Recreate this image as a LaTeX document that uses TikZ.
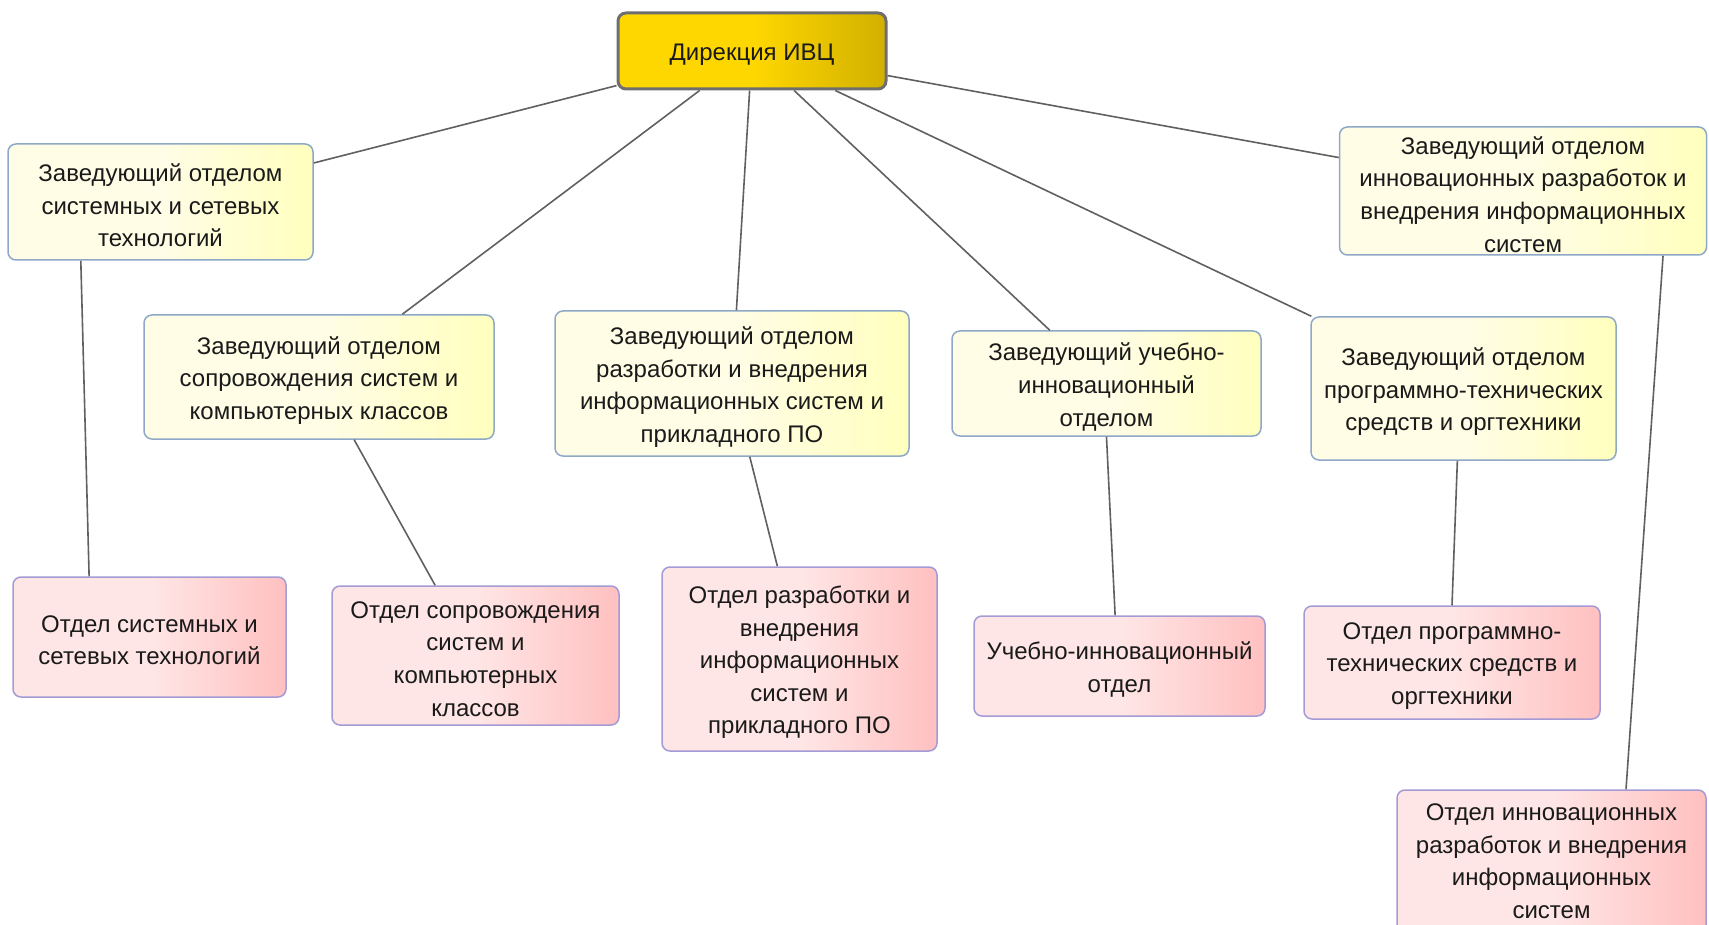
\documentclass[tikz,border=0pt]{standalone}
\usepackage{fontspec}
\setmainfont{Liberation Sans}
\usetikzlibrary{calc}
\definecolor{goldL}{HTML}{FFD700}
\definecolor{goldR}{HTML}{D2B000}
\definecolor{goldB}{HTML}{6E6E6E}
\definecolor{yelL}{HTML}{FFFDE6}
\definecolor{yelR}{HTML}{FFFFBE}
\definecolor{yelB}{HTML}{8EA8C8}
\definecolor{pinkL}{HTML}{FFE6E6}
\definecolor{pinkR}{HTML}{FFC0C0}
\definecolor{pinkB}{HTML}{A49AD6}
\definecolor{lineC}{HTML}{606060}
\definecolor{txtC}{HTML}{1A1A1A}
\tikzset{
  basebox/.style={rounded corners=4pt, inner sep=0pt},
  topbox/.style={basebox, draw=goldB, line width=1.5pt, left color=goldL, right color=goldR, middle color=goldL},
  headbox/.style={basebox, draw=yelB, line width=0.75pt, left color=yelL, right color=yelR, middle color=yelL},
  deptbox/.style={basebox, draw=pinkB, line width=0.75pt, left color=pinkL, right color=pinkR, middle color=pinkL},
  txt/.style={align=center, inner sep=0pt, text=txtC, font=\fontsize{12pt}{16.3pt}\selectfont},
  conn/.style={draw=lineC, line width=0.8pt}
}
\begin{document}
\begin{tikzpicture}[x=0.5pt,y=-0.5pt]
\useasboundingbox (0,0) rectangle (1709,925);
\clip (0,0) rectangle (1709,925);
% top
\node[topbox, minimum width=134pt, minimum height=38pt] (top) at (752,51) {};
\node[txt] (topt) at ($(top)+(0,3.4)$) {Дирекция ИВЦ};
% heads
\node[headbox, minimum width=152.5pt, minimum height=58pt] (a1) at (160.5,202) {};
\node[txt] (a1t) at ($(a1)+(0,3.4)$) {Заведующий отделом\\системных и сетевых\\технологий};
\node[headbox, minimum width=175pt, minimum height=62pt] (a2) at (319,377) {};
\node[txt] (a2t) at ($(a2)+(0,3.4)$) {Заведующий отделом\\сопровождения систем и\\компьютерных классов};
\node[headbox, minimum width=177pt, minimum height=72.5pt] (a3) at (732,383.5) {};
\node[txt] (a3t) at ($(a3)+(0,3.4)$) {Заведующий отделом\\разработки и внедрения\\информационных систем и\\прикладного ПО};
\node[headbox, minimum width=154.5pt, minimum height=52.5pt] (a4) at (1106.5,383.5) {};
\node[txt] (a4t) at ($(a4)+(0,3.4)$) {Заведующий учебно-\\инновационный\\отделом};
\node[headbox, minimum width=152.5pt, minimum height=71.5pt] (a5) at (1463.5,388.5) {};
\node[txt] (a5t) at ($(a5)+(0,3.4)$) {Заведующий отделом\\программно-технических\\средств и оргтехники};
\node[headbox, minimum width=183.5pt, minimum height=64pt] (a6) at (1523,191) {};
\node[txt] (a6t) at ($(a6)+(0,3.4)$) {Заведующий отделом\\инновационных разработок и\\внедрения информационных\\систем};
% departments
\node[deptbox, minimum width=136.5pt, minimum height=60pt] (b1) at (149.5,637) {};
\node[txt] (b1t) at ($(b1)+(0,3.4)$) {Отдел системных и\\сетевых технологий};
\node[deptbox, minimum width=143.5pt, minimum height=69.5pt] (b2) at (475.5,655.5) {};
\node[txt] (b2t) at ($(b2)+(0,3.4)$) {Отдел сопровождения\\систем и\\компьютерных\\классов};
\node[deptbox, minimum width=137.5pt, minimum height=92pt] (b3) at (799.5,659) {};
\node[txt] (b3t) at ($(b3)+(0,3.4)$) {Отдел разработки и\\внедрения\\информационных\\систем и\\прикладного ПО};
\node[deptbox, minimum width=145.5pt, minimum height=50pt] (b4) at (1119.5,666) {};
\node[txt] (b4t) at ($(b4)+(0,3.4)$) {Учебно-инновационный\\отдел};
\node[deptbox, minimum width=148pt, minimum height=56.5pt] (b5) at (1452,662.5) {};
\node[txt] (b5t) at ($(b5)+(0,3.4)$) {Отдел программно-\\технических средств и\\оргтехники};
\node[deptbox, minimum width=154.5pt, minimum height=72pt] (b6) at (1551.5,862) {};
\node[txt] (b6t) at ($(b6)+(0,-0.6)$) {Отдел инновационных\\разработок и внедрения\\информационных\\систем};
% connectors top -> heads
\draw[conn] (top) -- (a1);
\draw[conn] (top) -- (a2);
\draw[conn] (top) -- (a3);
\draw[conn] (top) -- (a4);
\draw[conn] (top) -- (a5);
\draw[conn] (top) -- (a6);
% heads -> departments
\draw[conn] ($(a1.south west)!0.24!(a1.south east)$) -- ($(b1.north west)!0.28!(b1.north east)$);
\draw[conn] ($(a2.south west)!0.60!(a2.south east)$) -- ($(b2.north west)!0.36!(b2.north east)$);
\draw[conn] ($(a3.south west)!0.55!(a3.south east)$) -- ($(b3.north west)!0.42!(b3.north east)$);
\draw[conn] ($(a4.south west)!0.50!(a4.south east)$) -- ($(b4.north west)!0.485!(b4.north east)$);
\draw[conn] ($(a5.south west)!0.48!(a5.south east)$) -- ($(b5.north west)!0.50!(b5.north east)$);
\draw[conn] ($(a6.south west)!0.88!(a6.south east)$) -- ($(b6.north west)!0.74!(b6.north east)$);
\end{tikzpicture}
\end{document}
